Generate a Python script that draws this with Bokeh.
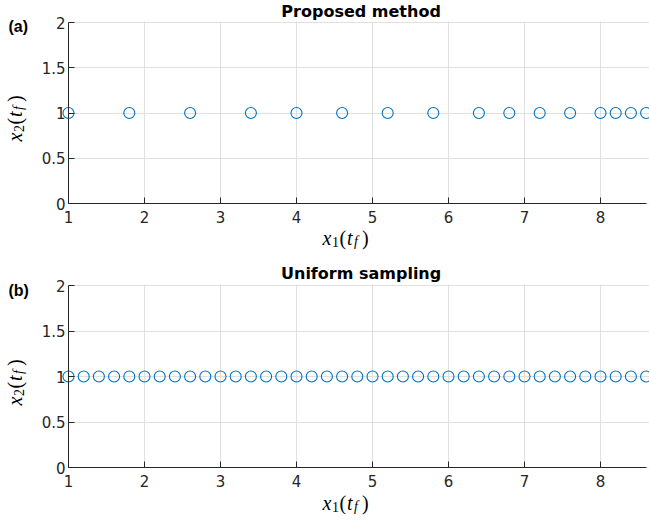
import math
from bokeh.plotting import figure
from bokeh.layouts import column
from bokeh.models import (Range1d, FixedTicker, NumeralTickFormatter, Label,
                          BoxAnnotation)
from bokeh.embed import file_html
from bokeh.resources import INLINE

# ---- data ----
x_proposed = [1.0, 1.8, 2.6, 3.4, 4.0, 4.6, 5.2, 5.8, 6.4, 6.8, 7.2, 7.6, 8.0, 8.2, 8.4, 8.6]
y_proposed = [1, 1, 1, 1, 1, 1, 1, 1, 1, 1, 1, 1, 1, 1, 1, 1]
x_uniform = [1.0, 1.2, 1.4, 1.6, 1.8, 2.0, 2.2, 2.4, 2.6, 2.8, 3.0, 3.2, 3.4, 3.6,
             3.8, 4.0, 4.2, 4.4, 4.6, 4.8, 5.0, 5.2, 5.4, 5.6, 5.8, 6.0, 6.2, 6.4,
             6.6, 6.8, 7.0, 7.2, 7.4, 7.6, 7.8, 8.0, 8.2, 8.4, 8.6]
y_uniform = [1, 1, 1, 1, 1, 1, 1, 1, 1, 1, 1, 1, 1, 1, 1, 1, 1, 1, 1, 1,
             1, 1, 1, 1, 1, 1, 1, 1, 1, 1, 1, 1, 1, 1, 1, 1, 1, 1, 1]
x_ticks = [1, 2, 3, 4, 5, 6, 7, 8]
y_ticks = [0, 0.5, 1, 1.5, 2]
x_lim = (1, 8.6)
y_lim = (0, 2)
titles = ["Proposed method", "Uniform sampling"]
panel_tags = ["(a)", "(b)"]

BLUE = "#0072BD"
AX = "#262626"
MATH_FONT = "Liberation Serif"
W = 649
PX_X0 = 68        # pixel position of x = 1
PPX = 76          # pixels per x unit


def math_label(p, pieces, x, y, xo, yo, vertical=False):
    # pieces: (text, italic, size, advance, baseline_shift_down)
    for text, italic, size, adv, shift in pieces:
        if vertical:
            lab = Label(x=x, y=y, x_offset=xo + shift, y_offset=yo + adv,
                        angle=math.pi / 2, text=text)
        else:
            lab = Label(x=x, y=y, x_offset=xo + adv, y_offset=yo - shift, text=text)
        lab.text_font = MATH_FONT
        lab.text_font_style = "italic" if italic else "normal"
        lab.text_font_size = f"{size}px"
        lab.text_color = "#000000"
        lab.text_align = "left"
        lab.text_baseline = "alphabetic"
        p.add_layout(lab)


def pieces_for(sub):
    return [("x", True, 20, 0, 0),
            (sub, False, 14, 9.5, 4),
            ("(", False, 20, 17, 0),
            ("t", True, 20, 24.5, 0),
            ("f", True, 14, 31.5, 4),
            (")", False, 20, 39.5, 0)]


def make_panel(xs, ys, title, tag, H, ytop_px, ybot_px,
               title_off, tag_off, xlab_off):
    ppy = (ybot_px - ytop_px) / (y_lim[1] - y_lim[0])
    xr = Range1d(x_lim[0] - PX_X0 / PPX, x_lim[0] + (W - PX_X0) / PPX)
    yr = Range1d(y_lim[0] - (H - ybot_px) / ppy, y_lim[1] + ytop_px / ppy)
    p = figure(output_backend="svg", toolbar_location=None,
               x_range=xr, y_range=yr, width=W, height=H,
               min_border_left=0, min_border_right=0,
               min_border_top=0, min_border_bottom=0)
    p.outline_line_color = None
    p.background_fill_color = "white"
    p.border_fill_color = "white"

    p.xaxis.ticker = FixedTicker(ticks=x_ticks)
    p.yaxis.ticker = FixedTicker(ticks=y_ticks)
    p.yaxis.formatter = NumeralTickFormatter(format="0.[0]")
    p.xaxis.bounds = x_lim
    p.yaxis.bounds = y_lim
    p.xaxis.fixed_location = y_lim[0]
    p.yaxis.fixed_location = x_lim[0]
    for ax in (p.xaxis, p.yaxis):
        ax.axis_line_color = AX
        ax.axis_line_width = 1
        ax.major_tick_line_color = AX
        ax.major_tick_in = 6
        ax.major_tick_out = 0
        ax.minor_tick_line_color = None
        ax.major_label_text_font = "DejaVu Sans"
        ax.major_label_text_font_size = "15px"
        ax.major_label_text_color = AX
    p.xaxis.major_label_standoff = 7
    p.yaxis.major_label_standoff = 3

    p.xgrid.ticker = FixedTicker(ticks=x_ticks)
    p.ygrid.ticker = FixedTicker(ticks=y_ticks)
    p.grid.grid_line_color = "#e0e0e0"
    p.grid.grid_line_width = 1

    # hide grid parts outside the axes box
    for kw in (dict(right=x_lim[0]), dict(top=y_lim[0]),
               dict(bottom=y_lim[1] + 1.0 / ppy)):
        p.add_layout(BoxAnnotation(fill_color="white", fill_alpha=1,
                                   line_alpha=0, level="underlay", **kw))

    p.scatter(xs, ys, marker="circle", size=11, fill_color=None,
              line_color=BLUE, line_width=1.1)

    t = Label(x=4.85, y=y_lim[1], y_offset=title_off, text=title,
              text_font="DejaVu Sans", text_font_style="bold",
              text_font_size="16px", text_align="center",
              text_baseline="alphabetic", text_color="#000000")
    p.add_layout(t)
    a = Label(x=x_lim[0], y=y_lim[1], x_offset=8 - PX_X0, y_offset=tag_off,
              text=tag, text_font="Liberation Sans", text_font_style="bold",
              text_font_size="16px", text_align="left",
              text_baseline="alphabetic", text_color="#000000")
    p.add_layout(a)

    math_label(p, pieces_for("1"), x_lim[0], y_lim[0], 254, xlab_off)
    math_label(p, pieces_for("2"), x_lim[0], y_lim[0], 14 - PX_X0, 62, vertical=True)
    return p


p1 = make_panel(x_proposed, y_proposed, titles[0], panel_tags[0],
                258, 22, 203, 11, -4, -34)
p2 = make_panel(x_uniform, y_uniform, titles[1], panel_tags[1],
                262, 27, 209, 12, -5, -35)

layout = column(p1, p2, spacing=0)
open("out.html", "w").write(file_html(layout, INLINE))
